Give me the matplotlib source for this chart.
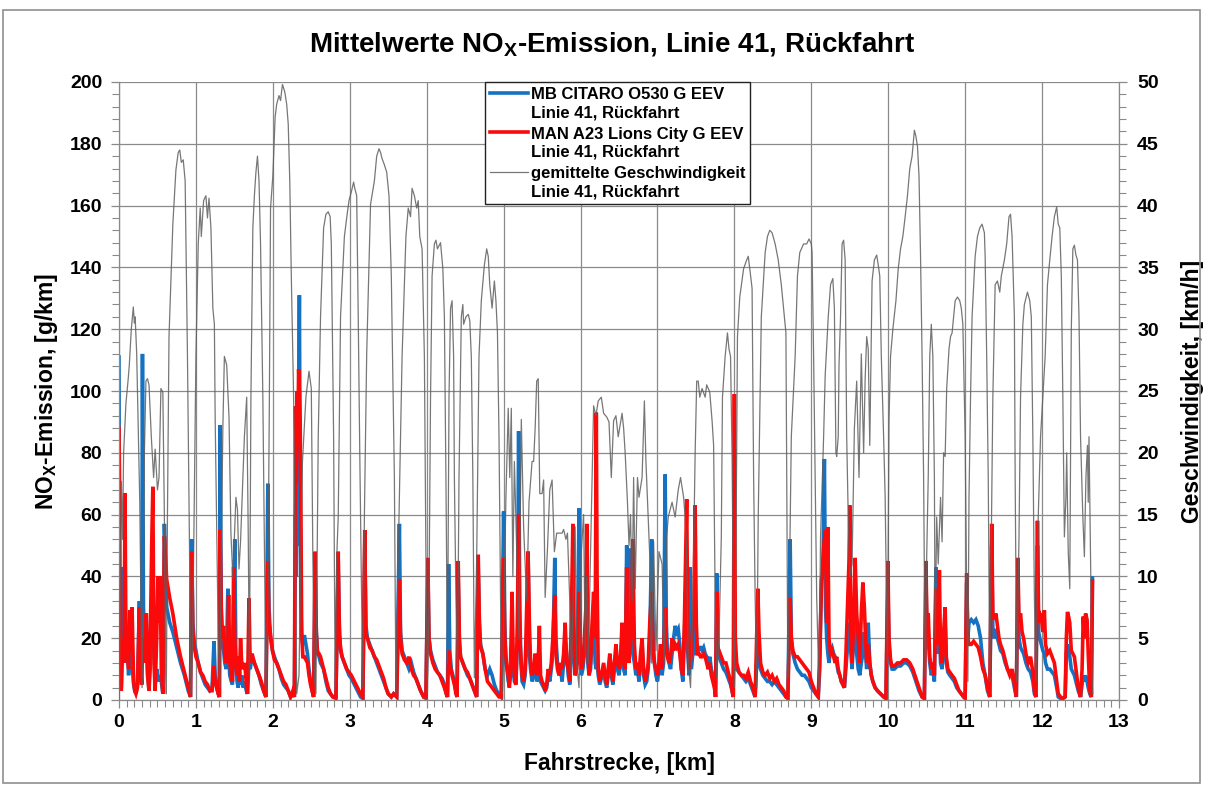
import matplotlib
matplotlib.use("Agg")
import matplotlib.pyplot as plt
from matplotlib.ticker import MultipleLocator
from matplotlib.patches import Rectangle
from matplotlib.legend_handler import HandlerLine2D

# ── NOx emission, both buses (g/km over driven distance) ─────────────────────
nox_km = [
    0.000, 0.005, 0.012, 0.020, 0.030, 0.050, 0.065, 0.078, 0.090, 0.110,
    0.125, 0.140, 0.155, 0.170, 0.190, 0.205, 0.220, 0.240, 0.265, 0.280,
    0.295, 0.305, 0.318, 0.335, 0.355, 0.370, 0.390, 0.410, 0.425, 0.440,
    0.455, 0.470, 0.490, 0.505, 0.520, 0.535, 0.550, 0.570, 0.590, 0.620,
    0.660, 0.700, 0.750, 0.800, 0.850, 0.900, 0.930, 0.945, 0.960, 0.980,
    1.000, 1.030, 1.060, 1.090, 1.120, 1.150, 1.180, 1.210, 1.235, 1.250,
    1.270, 1.290, 1.305, 1.315, 1.330, 1.345, 1.360, 1.375, 1.395, 1.415,
    1.425, 1.440, 1.460, 1.475, 1.490, 1.505, 1.520, 1.535, 1.550, 1.565,
    1.580, 1.595, 1.615, 1.635, 1.655, 1.670, 1.690, 1.705, 1.730, 1.760,
    1.790, 1.820, 1.850, 1.880, 1.910, 1.935, 1.950, 1.970, 1.995, 2.020,
    2.050, 2.080, 2.110, 2.140, 2.170, 2.200, 2.230, 2.260, 2.280, 2.295,
    2.305, 2.315, 2.325, 2.335, 2.345, 2.355, 2.365, 2.375, 2.390, 2.410,
    2.430, 2.450, 2.470, 2.490, 2.510, 2.530, 2.550, 2.565, 2.580, 2.600,
    2.620, 2.640, 2.660, 2.690, 2.720, 2.750, 2.780, 2.820, 2.850, 2.865,
    2.880, 2.900, 2.930, 2.960, 2.990, 3.020, 3.060, 3.100, 3.140, 3.170,
    3.195, 3.210, 3.230, 3.260, 3.290, 3.320, 3.350, 3.380, 3.410, 3.440,
    3.470, 3.500, 3.540, 3.570, 3.610, 3.645, 3.660, 3.680, 3.710, 3.740,
    3.770, 3.800, 3.830, 3.860, 3.890, 3.920, 3.960, 3.990, 4.015, 4.030,
    4.050, 4.080, 4.110, 4.140, 4.170, 4.200, 4.230, 4.255, 4.270, 4.285,
    4.300, 4.320, 4.340, 4.360, 4.380, 4.395, 4.410, 4.425, 4.440, 4.470,
    4.500, 4.530, 4.560, 4.590, 4.620, 4.650, 4.670, 4.685, 4.700, 4.730,
    4.760, 4.790, 4.820, 4.850, 4.880, 4.910, 4.940, 4.970, 5.000, 5.015,
    5.030, 5.045, 5.060, 5.075, 5.090, 5.110, 5.125, 5.140, 5.160, 5.180,
    5.195, 5.210, 5.225, 5.240, 5.260, 5.280, 5.300, 5.318, 5.335, 5.350,
    5.370, 5.390, 5.410, 5.430, 5.450, 5.465, 5.480, 5.500, 5.520, 5.540,
    5.560, 5.580, 5.600, 5.620, 5.640, 5.665, 5.680, 5.700, 5.720, 5.740,
    5.760, 5.780, 5.800, 5.820, 5.840, 5.860, 5.880, 5.900, 5.915, 5.930,
    5.950, 5.965, 5.980, 5.995, 6.010, 6.030, 6.050, 6.070, 6.080, 6.095,
    6.110, 6.130, 6.150, 6.170, 6.190, 6.205, 6.215, 6.230, 6.250, 6.270,
    6.300, 6.320, 6.340, 6.360, 6.380, 6.400, 6.420, 6.440, 6.460, 6.480,
    6.500, 6.520, 6.540, 6.560, 6.580, 6.600, 6.615, 6.630, 6.650, 6.665,
    6.680, 6.700, 6.720, 6.740, 6.760, 6.780, 6.800, 6.820, 6.840, 6.860,
    6.880, 6.900, 6.925, 6.945, 6.960, 6.980, 7.000, 7.020, 7.040, 7.060,
    7.080, 7.100, 7.115, 7.130, 7.150, 7.170, 7.190, 7.210, 7.230, 7.250,
    7.270, 7.290, 7.310, 7.330, 7.350, 7.365, 7.380, 7.395, 7.410, 7.425,
    7.440, 7.460, 7.475, 7.490, 7.505, 7.520, 7.540, 7.560, 7.580, 7.600,
    7.620, 7.640, 7.660, 7.680, 7.700, 7.720, 7.740, 7.755, 7.770, 7.785,
    7.800, 7.830, 7.860, 7.890, 7.920, 7.950, 7.970, 7.985, 8.000, 8.012,
    8.030, 8.060, 8.090, 8.120, 8.150, 8.180, 8.210, 8.240, 8.270, 8.305,
    8.320, 8.340, 8.370, 8.400, 8.430, 8.460, 8.490, 8.520, 8.550, 8.580,
    8.610, 8.640, 8.670, 8.695, 8.725, 8.740, 8.760, 8.790, 8.820, 8.850,
    8.880, 8.910, 8.940, 8.970, 9.000, 9.030, 9.060, 9.090, 9.110, 9.130,
    9.150, 9.170, 9.185, 9.200, 9.215, 9.230, 9.250, 9.270, 9.290, 9.310,
    9.330, 9.350, 9.370, 9.390, 9.410, 9.430, 9.450, 9.470, 9.490, 9.500,
    9.515, 9.530, 9.550, 9.570, 9.590, 9.610, 9.630, 9.650, 9.670, 9.690,
    9.705, 9.720, 9.740, 9.760, 9.780, 9.800, 9.830, 9.860, 9.900, 9.940,
    9.970, 9.995, 10.010, 10.030, 10.050, 10.080, 10.120, 10.160, 10.200, 10.240,
    10.280, 10.320, 10.360, 10.400, 10.440, 10.470, 10.490, 10.505, 10.520, 10.540,
    10.560, 10.580, 10.600, 10.620, 10.635, 10.650, 10.665, 10.680, 10.700, 10.720,
    10.740, 10.755, 10.775, 10.800, 10.830, 10.860, 10.890, 10.920, 10.950, 10.980,
    11.000, 11.020, 11.035, 11.050, 11.080, 11.110, 11.140, 11.170, 11.200, 11.230,
    11.260, 11.290, 11.320, 11.345, 11.360, 11.380, 11.400, 11.420, 11.440, 11.460,
    11.490, 11.520, 11.550, 11.580, 11.610, 11.640, 11.665, 11.685, 11.700, 11.720,
    11.740, 11.760, 11.790, 11.820, 11.850, 11.880, 11.900, 11.920, 11.940, 11.955,
    11.970, 11.990, 12.010, 12.030, 12.045, 12.070, 12.100, 12.130, 12.160, 12.190,
    12.210, 12.240, 12.270, 12.300, 12.315, 12.330, 12.345, 12.360, 12.380, 12.400,
    12.420, 12.440, 12.470, 12.500, 12.520, 12.535, 12.550, 12.565, 12.585, 12.600,
    12.620, 12.640, 12.655,
]

# MB CITARO O530 G EEV
nox_mb = [
    111, 60, 20, 6, 4, 43, 15, 25, 12, 17,
    8, 20, 10, 12, 5, 3, 2, 5, 32, 12,
    5, 112, 30, 15, 27, 10, 3, 12, 20, 25,
    30, 5, 10, 8, 6, 8, 6, 2, 57, 30,
    25, 22, 17, 12, 8, 3, 1, 52, 25, 18,
    16, 12, 9, 7, 5, 4, 3, 4, 19, 8,
    4, 2, 1, 89, 30, 18, 16, 12, 10, 36,
    15, 8, 6, 5, 30, 52, 12, 6, 4, 10,
    5, 8, 4, 6, 3, 2, 12, 10, 14, 12,
    10, 8, 5, 3, 1, 70, 30, 20, 16, 14,
    12, 10, 7, 5, 4, 3, 1, 2, 1, 60,
    40, 80, 50, 90, 131, 70, 30, 20, 18, 21,
    18, 15, 10, 6, 3, 1, 45, 22, 16, 14,
    12, 11, 10, 6, 3, 2, 1, 1, 44, 24,
    16, 14, 12, 10, 8, 7, 5, 3, 1, 0.5,
    50, 24, 20, 18, 16, 14, 12, 10, 8, 6,
    4, 2, 1, 2, 1, 57, 22, 16, 14, 12,
    10, 12, 9, 7, 5, 3, 1, 0.5, 43, 20,
    16, 13, 11, 9, 8, 7, 5, 2, 1, 44,
    16, 10, 8, 6, 3, 1, 39, 18, 14, 12,
    10, 8, 7, 5, 3, 1, 43, 25, 18, 15,
    10, 8, 10, 8, 5, 3, 2, 1, 61, 25,
    12, 10, 6, 5, 8, 20, 10, 6, 5, 20,
    87, 30, 12, 6, 5, 8, 20, 48, 15, 10,
    6, 8, 12, 6, 8, 10, 6, 5, 4, 3,
    4, 8, 6, 10, 15, 46, 20, 12, 8, 10,
    6, 12, 20, 15, 8, 5, 15, 42, 15, 8,
    12, 25, 62, 20, 8, 10, 15, 20, 30, 12,
    8, 10, 20, 30, 12, 10, 12, 8, 5, 7,
    10, 6, 4, 8, 12, 8, 5, 10, 15, 10,
    8, 12, 20, 10, 8, 50, 20, 12, 49, 20,
    15, 12, 8, 10, 6, 12, 18, 8, 5, 6,
    10, 20, 52, 20, 12, 8, 6, 10, 15, 8,
    12, 73, 25, 15, 12, 10, 15, 20, 24, 22,
    23, 18, 10, 6, 20, 35, 20, 15, 8, 43,
    10, 15, 20, 30, 15, 15, 17, 17, 16, 17,
    15, 14, 12, 14, 10, 8, 5, 1, 41, 18,
    14, 12, 10, 9, 7, 5, 3, 1, 30, 12,
    10, 9, 8, 7, 6, 7, 5, 3, 1, 20,
    12, 10, 8, 7, 6, 6, 5, 6, 5, 4,
    3, 2, 1, 0.5, 52, 20, 15, 12, 10, 9,
    8, 8, 7, 6, 4, 3, 2, 1, 10, 39,
    40, 78, 30, 20, 15, 12, 16, 17, 15, 14,
    12, 9, 8, 6, 5, 4, 10, 17, 20, 25,
    15, 10, 20, 25, 15, 10, 8, 12, 15, 22,
    15, 10, 25, 12, 8, 6, 4, 3, 2, 1,
    0.5, 37, 18, 12, 10, 10, 11, 11, 12, 12,
    11, 9, 6, 3, 1, 0.5, 40, 18, 20, 12,
    8, 10, 6, 43, 20, 15, 25, 12, 10, 18,
    25, 12, 9, 8, 7, 6, 4, 3, 2, 1,
    1, 38, 20, 25, 26, 25, 26, 24, 20, 12,
    8, 3, 1, 50, 22, 20, 23, 20, 18, 16,
    15, 12, 10, 9, 8, 4, 1, 40, 20, 17,
    16, 15, 12, 10, 9, 6, 2, 1, 50, 22,
    20, 18, 16, 15, 12, 10, 10, 9, 8, 4,
    1, 0.5, 0.5, 1, 15, 18, 16, 14, 10, 9,
    8, 6, 3, 1, 5, 8, 6, 8, 6, 4,
    2, 1, 39.5,
]

# MAN A23 Lions City G EEV
nox_man = [
    88, 75, 30, 4, 3, 20, 12, 67, 20, 15,
    10, 29, 15, 30, 6, 3, 2, 4, 30, 10,
    5, 18, 20, 12, 28, 8, 3, 25, 50, 69,
    12, 3, 20, 40, 25, 40, 10, 2, 53, 39,
    33, 28, 20, 14, 9, 4, 1, 48, 22, 17,
    14, 12, 9, 8, 6, 5, 3, 3, 11, 6,
    4, 2, 1, 55, 28, 20, 24, 14, 12, 20,
    34, 12, 8, 6, 43, 20, 12, 8, 14, 6,
    20, 12, 10, 12, 5, 2, 33, 12, 15, 12,
    10, 8, 6, 3, 1, 45, 25, 21, 16, 13,
    12, 10, 8, 6, 5, 3, 1, 3, 1, 95,
    70, 100, 85, 107, 100, 90, 60, 22, 14, 14,
    13, 12, 8, 5, 3, 1, 48, 22, 15, 15,
    14, 12, 10, 7, 4, 2, 1, 0.5, 48, 21,
    17, 14, 12, 10, 9, 8, 6, 4, 2, 1,
    55, 21, 20, 17, 16, 14, 13, 11, 9, 7,
    4, 2, 1, 2, 1, 39, 20, 15, 13, 12,
    14, 10, 8, 7, 5, 3, 1, 1, 46, 20,
    15, 12, 10, 9, 8, 6, 4, 2, 1, 16,
    12, 9, 7, 5, 2, 1, 45, 20, 14, 12,
    10, 9, 7, 5, 3, 1, 47, 25, 17, 15,
    10, 6, 5, 4, 3, 2, 1, 1, 46, 20,
    14, 10, 8, 4, 12, 35, 14, 8, 5, 25,
    60, 20, 14, 8, 6, 10, 30, 48, 25, 12,
    8, 10, 15, 8, 12, 24, 8, 6, 5, 3,
    5, 10, 8, 12, 20, 34, 15, 10, 8, 12,
    10, 15, 25, 12, 10, 6, 25, 57, 20, 8,
    10, 15, 35, 15, 10, 12, 20, 30, 57, 18,
    8, 12, 25, 35, 20, 93, 40, 10, 6, 8,
    12, 8, 5, 10, 15, 10, 6, 12, 18, 12,
    10, 14, 25, 12, 10, 43, 15, 12, 20, 30,
    52, 18, 10, 12, 8, 15, 20, 10, 6, 8,
    12, 25, 35, 15, 12, 10, 8, 12, 18, 10,
    15, 30, 18, 14, 12, 14, 20, 16, 18, 17,
    18, 15, 10, 8, 25, 45, 65, 20, 10, 12,
    15, 25, 30, 63, 25, 15, 15, 14, 14, 15,
    14, 12, 10, 12, 8, 6, 4, 1, 35, 16,
    16, 14, 12, 12, 9, 6, 3, 1, 99, 20,
    12, 9, 8, 8, 7, 9, 6, 4, 1, 36,
    22, 12, 9, 8, 9, 7, 8, 6, 7, 5,
    4, 3, 1, 0.5, 33, 20, 16, 14, 14, 13,
    12, 11, 10, 9, 6, 4, 2, 1, 15, 35,
    45, 52, 55, 25, 56, 20, 15, 16, 14, 12,
    14, 10, 8, 6, 5, 4, 15, 30, 45, 63,
    20, 12, 25, 46, 28, 20, 12, 28, 38, 30,
    20, 12, 18, 12, 8, 6, 4, 3, 2, 1,
    0.5, 45, 20, 13, 11, 11, 12, 12, 13, 13,
    12, 10, 7, 4, 1, 0.5, 45, 22, 28, 14,
    10, 12, 8, 36, 25, 18, 42, 15, 12, 22,
    30, 14, 10, 9, 8, 7, 5, 3, 2, 1,
    0.5, 41, 20, 18, 18, 19, 18, 17, 14, 10,
    8, 4, 1, 57, 28, 26, 28, 24, 20, 18,
    16, 13, 10, 8, 10, 5, 1, 46, 25, 28,
    22, 20, 15, 12, 14, 9, 3, 1, 58, 25,
    28, 27, 22, 29, 18, 15, 16, 14, 12, 6,
    2, 1, 0.5, 1, 20, 28.5, 27, 25, 16, 15,
    14, 10, 4, 1, 10, 27, 20, 28, 26, 15,
    3, 1, 38.5,
]

# ── averaged speed (km/h) over driven distance ───────────────────────────────
speed_km = [
    0.000, 0.015, 0.030, 0.045, 0.060, 0.090, 0.120, 0.134, 0.160, 0.186,
    0.200, 0.210, 0.230, 0.250, 0.270, 0.285, 0.300, 0.315, 0.330, 0.350,
    0.370, 0.390, 0.420, 0.450, 0.470, 0.500, 0.520, 0.545, 0.570, 0.590,
    0.605, 0.615, 0.630, 0.650, 0.700, 0.740, 0.770, 0.790, 0.810, 0.835,
    0.860, 0.890, 0.915, 0.935, 0.955, 0.970, 1.000, 1.030, 1.056, 1.070,
    1.100, 1.130, 1.150, 1.170, 1.195, 1.220, 1.240, 1.250, 1.270, 1.290,
    1.310, 1.330, 1.350, 1.370, 1.400, 1.430, 1.455, 1.480, 1.520, 1.540,
    1.560, 1.580, 1.630, 1.660, 1.680, 1.695, 1.700, 1.715, 1.740, 1.760,
    1.780, 1.800, 1.820, 1.840, 1.870, 1.895, 1.910, 1.935, 1.955, 1.970,
    2.000, 2.030, 2.050, 2.080, 2.100, 2.125, 2.155, 2.180, 2.200, 2.220,
    2.240, 2.270, 2.295, 2.310, 2.340, 2.360, 2.385, 2.430, 2.470, 2.500,
    2.520, 2.540, 2.560, 2.590, 2.620, 2.660, 2.690, 2.720, 2.745, 2.760,
    2.790, 2.810, 2.830, 2.850, 2.880, 2.930, 2.970, 2.990, 3.020, 3.050,
    3.065, 3.090, 3.110, 3.130, 3.150, 3.170, 3.190, 3.220, 3.270, 3.320,
    3.350, 3.380, 3.400, 3.420, 3.450, 3.480, 3.510, 3.540, 3.580, 3.600,
    3.620, 3.640, 3.680, 3.730, 3.760, 3.790, 3.810, 3.840, 3.870, 3.890,
    3.910, 3.940, 3.970, 3.990, 4.010, 4.030, 4.050, 4.070, 4.100, 4.120,
    4.140, 4.180, 4.210, 4.230, 4.250, 4.270, 4.290, 4.310, 4.330, 4.350,
    4.360, 4.380, 4.400, 4.420, 4.450, 4.470, 4.480, 4.510, 4.540, 4.560,
    4.580, 4.600, 4.620, 4.650, 4.680, 4.710, 4.750, 4.780, 4.800, 4.820,
    4.850, 4.880, 4.900, 4.920, 4.940, 4.960, 4.980, 5.000, 5.030, 5.060,
    5.080, 5.100, 5.120, 5.140, 5.170, 5.200, 5.230, 5.260, 5.300, 5.330,
    5.370, 5.390, 5.410, 5.430, 5.450, 5.470, 5.500, 5.520, 5.540, 5.570,
    5.600, 5.630, 5.660, 5.690, 5.730, 5.760, 5.780, 5.810, 5.830, 5.860,
    5.880, 5.910, 5.930, 5.950, 5.980, 6.010, 6.040, 6.060, 6.080, 6.100,
    6.140, 6.170, 6.200, 6.230, 6.270, 6.300, 6.340, 6.370, 6.400, 6.430,
    6.460, 6.490, 6.540, 6.560, 6.580, 6.610, 6.630, 6.650, 6.670, 6.690,
    6.710, 6.740, 6.760, 6.800, 6.830, 6.850, 6.880, 6.900, 6.920, 6.950,
    6.980, 7.020, 7.060, 7.090, 7.120, 7.140, 7.190, 7.230, 7.270, 7.300,
    7.340, 7.360, 7.380, 7.400, 7.430, 7.460, 7.490, 7.510, 7.530, 7.550,
    7.580, 7.620, 7.640, 7.680, 7.710, 7.730, 7.750, 7.770, 7.800, 7.830,
    7.845, 7.880, 7.910, 7.930, 7.950, 7.970, 7.990, 8.000, 8.020, 8.040,
    8.070, 8.120, 8.160, 8.180, 8.200, 8.230, 8.250, 8.270, 8.290, 8.310,
    8.350, 8.400, 8.430, 8.460, 8.490, 8.530, 8.570, 8.610, 8.650, 8.670,
    8.680, 8.695, 8.720, 8.740, 8.790, 8.820, 8.850, 8.900, 8.940, 8.970,
    9.000, 9.010, 9.030, 9.050, 9.070, 9.100, 9.120, 9.160, 9.180, 9.220,
    9.250, 9.280, 9.300, 9.320, 9.330, 9.350, 9.360, 9.380, 9.400, 9.420,
    9.440, 9.460, 9.480, 9.500, 9.530, 9.560, 9.590, 9.620, 9.650, 9.680,
    9.700, 9.720, 9.740, 9.760, 9.790, 9.820, 9.850, 9.870, 9.890, 9.910,
    9.940, 9.960, 9.970, 9.990, 10.010, 10.030, 10.060, 10.100, 10.130, 10.160,
    10.190, 10.220, 10.250, 10.280, 10.310, 10.340, 10.360, 10.380, 10.400, 10.420,
    10.440, 10.460, 10.480, 10.500, 10.520, 10.540, 10.560, 10.580, 10.600, 10.610,
    10.630, 10.650, 10.680, 10.700, 10.720, 10.740, 10.760, 10.790, 10.810, 10.830,
    10.850, 10.870, 10.900, 10.930, 10.950, 10.970, 11.000, 11.020, 11.035, 11.050,
    11.070, 11.090, 11.130, 11.160, 11.190, 11.220, 11.250, 11.260, 11.280, 11.300,
    11.320, 11.340, 11.360, 11.390, 11.420, 11.450, 11.470, 11.510, 11.540, 11.570,
    11.590, 11.610, 11.640, 11.650, 11.670, 11.700, 11.720, 11.750, 11.770, 11.810,
    11.840, 11.860, 11.880, 11.900, 11.920, 11.950, 11.980, 12.010, 12.040, 12.070,
    12.100, 12.130, 12.160, 12.190, 12.210, 12.230, 12.250, 12.270, 12.290, 12.310,
    12.320, 12.340, 12.360, 12.380, 12.400, 12.420, 12.440, 12.460, 12.480, 12.500,
    12.530, 12.550, 12.570, 12.590, 12.600, 12.610, 12.630, 12.650, 12.660,
]

speed_kmh = [
    0, 10, 17.7, 13, 20, 24, 26, 27.1, 30, 31.8,
    30.5, 31, 28, 22, 16, 8, 1, 8, 20, 25.8,
    26, 25.5, 21.3, 18, 20.3, 17, 18, 25.2, 24.9, 14.8,
    3, 0.5, 15, 29.4, 38.5, 42.9, 44.3, 44.5, 43.5, 43.7,
    42, 27.8, 13.2, 0.5, 4, 11.5, 27.8, 36.9, 39.8, 37.5,
    40.4, 40.8, 39, 40.6, 38.2, 31.7, 30.4, 22.9, 14, 5,
    1, 12, 22, 27.8, 27.1, 22.9, 13.5, 9.9, 16.4, 15.4,
    10.6, 12.8, 21.3, 24.5, 13.5, 2, 8, 24.5, 38.2, 40.8,
    42.7, 44, 42, 36.9, 24.5, 9.9, 0.8, 8.3, 24.5, 39.8,
    42.4, 47.2, 48.2, 48.9, 48.5, 49.8, 49.2, 48.2, 46.6, 42,
    34.3, 24.5, 8.3, 0.5, 2, 10, 19.3, 24.5, 26.6, 25.2,
    11.6, 1.8, 0.5, 21.3, 31, 38.2, 39.3, 39.5, 39.1, 36.9,
    21.3, 0.8, 11.5, 14.8, 31, 37.5, 39.5, 40.4, 41.1, 41.9,
    41.4, 40.8, 31, 20, 10, 1, 14.8, 28, 40.1, 42,
    44, 44.6, 44.3, 43.8, 43.3, 42.7, 40.8, 34.3, 18, 0.5,
    8.3, 14.8, 27.8, 37.5, 39.8, 39.1, 41.4, 40.8, 39.8, 40.4,
    37.5, 36.5, 27.8, 11.6, 0.5, 8.3, 24.5, 34.3, 36.9, 37.2,
    36.5, 37, 34.9, 31, 18, 3, 24.5, 31.7, 32.3, 27.8,
    18, 8.3, 2, 18, 31, 32, 30.4, 31, 31.2, 30.7,
    27.8, 18, 1.8, 11.5, 27.8, 32.3, 35.2, 36.5, 35.9, 33.6,
    31.7, 33.9, 32.3, 29.7, 21.3, 8.3, 0.5, 6, 16.4, 23.6,
    18, 23.6, 10, 19.3, 12, 5, 22.7, 14, 8, 16,
    19.3, 19.3, 22, 25.8, 26, 16.7, 16.7, 17.8, 8.3, 12.2,
    17, 17.8, 12, 13.5, 13.5, 13.5, 13.8, 13, 13.5, 8,
    2, 10, 14, 3, 1, 12, 15, 4, 10, 3,
    15, 23.8, 23, 24.2, 24.5, 23.2, 22.9, 22.5, 18, 22.6,
    23, 21.3, 23.2, 22, 20, 16, 12.5, 15, 8, 18,
    9, 18, 16.4, 18, 24.2, 19.3, 14.8, 11.6, 3, 12.8,
    4, 12, 11, 3, 13.2, 14.8, 16, 14.8, 17, 18,
    16.4, 14.8, 11.6, 3, 1, 8, 20, 25.8, 25.8, 24.5,
    25.2, 24.5, 25.5, 24.9, 22.6, 20.6, 8.3, 1.8, 5, 13.2,
    24.5, 27.8, 29.7, 28.4, 27.8, 19.7, 5, 1, 11.5, 29.4,
    32.6, 34.9, 35.6, 35.9, 34.9, 33.3, 18, 8.3, 1, 14.8,
    31, 36.2, 37.5, 38, 37.8, 36.9, 35.6, 33.6, 31, 29.7,
    18, 1.8, 11.6, 21.3, 27.8, 34.3, 36.2, 36.9, 36.9, 37.3,
    36.9, 36.2, 27.8, 18, 8.3, 1, 13.2, 21.3, 26.2, 31,
    33.6, 34.1, 31.7, 20, 19.7, 21.3, 27.1, 31, 36.9, 37.2,
    35.6, 21.3, 14.8, 10, 11, 22, 25.8, 18, 28, 20,
    26, 29.4, 28.4, 20.6, 33.9, 35.6, 36, 35.2, 34.3, 27.8,
    21.3, 16.4, 11.6, 3, 22.6, 27.8, 30, 32.3, 34.9, 36.5,
    37.5, 39.1, 40.8, 43, 44, 46.1, 45.6, 44.8, 42.4, 35.9,
    27.8, 18, 1.8, 11.6, 18, 27.8, 30.4, 27.8, 18, 5,
    14.8, 11, 16.4, 12.8, 20, 19.7, 25.2, 28.4, 29.4, 29.7,
    31, 32.3, 32.6, 32.3, 31.7, 30.4, 21.3, 8.3, 1.5, 16.4,
    24.5, 31, 35.9, 37.5, 38.2, 38.5, 37.8, 35.9, 27.8, 18,
    1.5, 13.2, 24.5, 33.6, 33.9, 33, 34.3, 35.6, 36.9, 39.1,
    39.3, 37.5, 31, 18, 1.5, 13.2, 24.5, 30.4, 32, 33,
    32.3, 31, 21.3, 8.3, 1.5, 14.8, 21.3, 24.5, 27.8, 33.6,
    35.6, 37.5, 39.1, 39.9, 38.5, 38.2, 34.3, 24.5, 13.2, 16.4,
    20, 12, 9, 30, 36.5, 36.8, 36, 35.6, 31, 21.3,
    14.8, 11.6, 18, 20.6, 16, 21.3, 11.6, 1.8, 0.5,
]

assert len(nox_km) == len(nox_mb) == len(nox_man)
assert len(speed_km) == len(speed_kmh)

plt.rcParams.update({
    "font.family": "Liberation Sans",
    "font.weight": "bold",
    "mathtext.fontset": "custom",
    "mathtext.rm": "Liberation Sans:bold",
    "mathtext.it": "Liberation Sans:bold",
    "mathtext.bf": "Liberation Sans:bold",
    "mathtext.default": "rm",
})

GRID = "#8a8a8a"
BLUE = "#1572c2"
RED = "#fa0a0a"
GREY = "#5f5f5f"
LEG_SIZE = 12
LABEL_SIZE = 16.5
TICK_SIZE = 14


class FirstLineHandler(HandlerLine2D):
    """Legend line drawn level with the first row of a two-row label."""

    def create_artists(self, legend, orig_handle, xdescent, ydescent,
                       width, height, fontsize, trans):
        artists = super().create_artists(legend, orig_handle, xdescent, ydescent,
                                         width, height, fontsize, trans)
        for a in artists:
            a.set_ydata([y + 0.66 * fontsize for y in a.get_ydata()])
        return artists


W, H = 1205, 787
fig = plt.figure(figsize=(W / 100, H / 100), dpi=100)
ax = fig.add_axes([119 / W, 1 - 700 / H, 1000 / W, 618 / H])

ax.plot(nox_km, nox_mb, color=BLUE, lw=2.6, solid_joinstyle="miter",
        label="MB CITARO O530 G EEV\nLinie 41, Rückfahrt")
ax.plot(nox_km, nox_man, color=RED, lw=2.6, solid_joinstyle="miter",
        label="MAN A23 Lions City G EEV\nLinie 41, Rückfahrt")

ax2 = ax.twinx()
ax2.plot(speed_km, speed_kmh, color=GREY, lw=0.9, alpha=0.85,
         label="gemittelte Geschwindigkeit\nLinie 41, Rückfahrt")

ax.set_xlim(0, 13)
ax.set_ylim(0, 200)
ax2.set_ylim(0, 50)

ax.xaxis.set_major_locator(MultipleLocator(1))
ax.xaxis.set_minor_locator(MultipleLocator(0.1))
ax.yaxis.set_major_locator(MultipleLocator(20))
ax.yaxis.set_minor_locator(MultipleLocator(4))
ax2.yaxis.set_major_locator(MultipleLocator(5))
ax2.yaxis.set_minor_locator(MultipleLocator(1))

ax.set_axisbelow(True)
ax.grid(which="major", color=GRID, lw=0.9)

for a in (ax, ax2):
    a.spines["top"].set_visible(False)
    for s in a.spines.values():
        s.set_color(GRID)
        s.set_linewidth(0.9)
ax2.spines["left"].set_visible(False)
ax2.spines["bottom"].set_visible(False)
ax.spines["right"].set_visible(False)

for a in (ax, ax2):
    a.tick_params(which="major", direction="out", length=6, width=0.9, color=GRID,
                  labelsize=TICK_SIZE)
    a.tick_params(which="minor", direction="out", length=5, width=0.8, color=GRID)
ax.tick_params(axis="x", pad=4)
ax.tick_params(axis="y", pad=6)
ax2.tick_params(axis="y", pad=7)

ax.set_xlabel("Fahrstrecke, [km]", fontsize=LABEL_SIZE, fontweight="bold", labelpad=15)
ax.set_ylabel("NO$_X$-Emission, [g/km]", fontsize=LABEL_SIZE, fontweight="bold", labelpad=7)
ax2.set_ylabel("Geschwindigkeit, [km/h]", fontsize=LABEL_SIZE, fontweight="bold", labelpad=16)

fig.text(612 / W, 1 - 44 / H, "Mittelwerte NO$_X$-Emission, Linie 41, Rückfahrt",
         ha="center", va="center", fontsize=20, fontweight="bold")

handles = ax.get_lines() + ax2.get_lines()
leg = ax2.legend(handles, [h.get_label() for h in handles],
                 loc="upper left", bbox_to_anchor=((485 - 119) / 1000, 1.0),
                 borderaxespad=0, frameon=True, fancybox=False, shadow=False,
                 prop={"size": LEG_SIZE, "weight": "bold"}, handlelength=2.3,
                 handletextpad=0.15, borderpad=0.3, labelspacing=0.4,
                 handler_map={h: FirstLineHandler() for h in handles})
for t in leg.get_texts():
    t.set_linespacing(1.25)
leg.get_frame().set_edgecolor("#222222")
leg.get_frame().set_linewidth(1.0)
leg.get_frame().set_alpha(1)

# chart area border
fig.patches.append(Rectangle((3 / W, 1 - 783 / H), 1197 / W, 773 / H,
                             transform=fig.transFigure, fill=False,
                             edgecolor="#8f8f8f", lw=1.2))

fig.savefig("out.png", dpi=100)
